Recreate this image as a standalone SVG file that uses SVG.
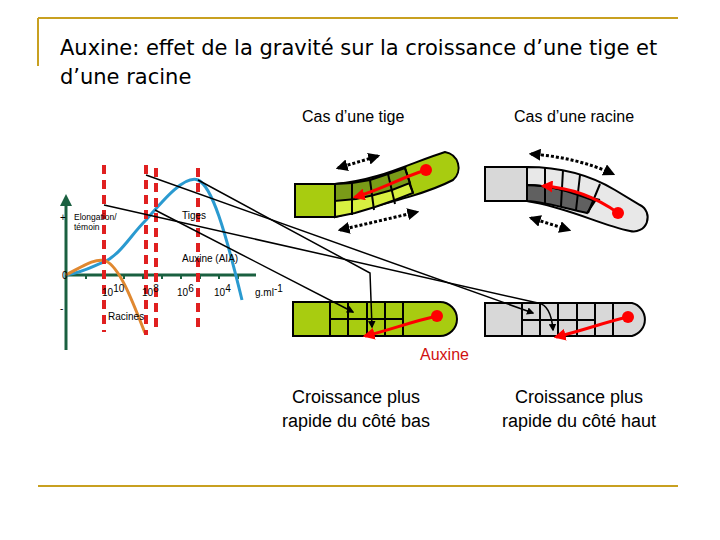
<svg xmlns="http://www.w3.org/2000/svg" width="720" height="540" viewBox="0 0 720 540">
<defs>
<marker id="ah" viewBox="0 0 10 10" refX="8" refY="5" markerWidth="5" markerHeight="5" orient="auto"><path d="M0,0L10,5L0,10z" fill="#000"/></marker>
<marker id="ra" viewBox="0 0 10 10" refX="8" refY="5" markerWidth="4" markerHeight="4" orient="auto"><path d="M0,0L10,5L0,10z" fill="#f00"/></marker>
<marker id="rd" viewBox="0 0 10 10" refX="5" refY="5" markerWidth="4" markerHeight="4"><circle cx="5" cy="5" r="5" fill="#f00"/></marker>
<marker id="da" viewBox="0 0 10 10" refX="8" refY="5" markerWidth="4" markerHeight="4" orient="auto-start-reverse"><path d="M0,0L10,5L0,10z" fill="#000"/></marker>
<marker id="ga" viewBox="0 0 10 10" refX="5" refY="5" markerWidth="4" markerHeight="4" orient="auto"><path d="M0,0L10,5L0,10z" fill="#1a6040"/></marker>
</defs>
<style>
text{font-family:"Liberation Sans",Arial,sans-serif}
.t{font-size:18px}.s{font-size:10px}.x{font-size:8.5px}.m{font-size:16px}
.h{font-family:"DejaVu Sans",Verdana,sans-serif;font-size:21px}
.dash{stroke:#e02020;stroke-width:4;stroke-dasharray:9,6;fill:none}
.cell{stroke:#000;stroke-width:2}
.ln{stroke:#000;stroke-width:1.5;fill:none}
.red{stroke:#f00;stroke-width:3;fill:none;marker-start:url(#rd);marker-end:url(#ra)}
.dot{stroke:#000;stroke-width:3;stroke-dasharray:3,2;fill:none;marker-start:url(#da);marker-end:url(#da)}
</style>
<rect width="720" height="540" fill="#fff"/>
<g fill="none" stroke="#c8a020" stroke-width="2"><path d="M38,18H678M38,18V66M38,486H678"/></g>
<text x="60" y="55" class="h">Auxine: effet de la gravité sur la croissance d’une tige et</text>
<text x="60" y="84" class="h">d’une racine</text>
<text x="302" y="122" class="m">Cas d’une tige</text>
<text x="514" y="122" class="m">Cas d’une racine</text>
<g id="graph">
<path d="M66,350V200" stroke="#1a6040" stroke-width="3" marker-end="url(#ga)"/>
<path d="M66,275H256" stroke="#1a6040" stroke-width="3"/>
<g stroke="#1a6040" stroke-width="2"><path d="M86,275v4M105,275v4M124,275v4M143,275v4M162,275v4M181,275v4M200,275v4M219,275v4M238,275v4"/></g>
<path d="M66,275C85,272 95,265 104,262C120,255 130,236 146,220C165,198 185,175 198,180C212,186 225,230 242,300" stroke="#2a9ad0" stroke-width="3" fill="none"/>
<path d="M66,275C80,268 95,257 106,261C120,268 132,300 145,333" stroke="#e08830" stroke-width="3" fill="none"/>
<path class="dash" d="M104,165V332M146,165V335M156,168V333M198,168V332"/>
<text x="60" y="221" class="s">+</text>
<text x="74" y="220" class="x">Elongation/</text>
<text x="74" y="230" class="x">témoin</text>
<text x="182" y="219" class="s">Tiges</text>
<text x="182" y="262" class="s">Auxine (AIA)</text>
<text x="62" y="279" class="s">0</text>
<text x="60" y="312" class="s">-</text>
<text x="108" y="320" class="s">Racines</text>
<text x="102" y="296" class="s">10<tspan dy="-4">10</tspan></text>
<text x="142" y="296" class="s">10<tspan dy="-4">8</tspan></text>
<text x="177" y="296" class="s">10<tspan dy="-4">6</tspan></text>
<text x="214" y="296" class="s">10<tspan dy="-4">4</tspan></text>
<text x="255" y="296" class="s">g.ml<tspan dy="-4">-1</tspan></text>
</g>
<g id="tige-courbe">
<rect x="295" y="184" width="40" height="33" fill="#a8cc10" class="cell"/>
<path d="M335,184C380,180 410,163 445,152A16,16 0 0 1 453,180C430,192 400,200 335,217z" fill="#a8cc10" class="cell"/>
<path d="M335,184L352,183L370,180L388,174L405,168L404,170L413,193L395,200L375,207L355,213L335,217z" fill="#d8f040" class="cell"/>
<path d="M335,184L352,183L370,180L388,174L405,168L410,183L392,190L374,195L356,199L335,201z" fill="#7a9c18" class="cell"/>
<path class="cell" fill="none" d="M352,183V215M370,180L374,210M388,174L395,204M405,168L413,193"/>
<path class="red" d="M426,170C400,178 380,190 355,197"/>
<path class="dot" d="M338,168L378,156"/>
<path class="dot" d="M340,230L417,212"/>
</g>
<g id="racine-courbe">
<rect x="485" y="167" width="42" height="34" fill="#d8d8d8" class="cell"/>
<path d="M527,167C560,167 590,175 615,190L640,205A14,14 0 0 1 630,231C600,225 570,208 527,201z" fill="#e8e8e8" class="cell"/>
<path d="M527,185C550,185 570,192 595,201L587,213C565,208 545,202 527,201z" fill="#606060" class="cell"/>
<path class="cell" fill="none" d="M527,185C550,185 570,192 600,200M545,167V203M563,170L561,206M580,175L576,210M600,184L588,213"/>
<path class="red" d="M618,213C600,200 575,188 543,186"/>
<path class="dot" d="M531,154C560,156 590,163 613,174"/>
<path class="dot" d="M531,218L569,230"/>
</g>
<g id="tige-droite">
<path d="M293,302H440A17,17 0 0 1 440,336H293z" fill="#a8cc10" class="cell"/>
<path class="cell" d="M330,302V336M348,302V336M367,302V336M385,302V336M403,302V336M330,319H403"/>
<path class="red" d="M437,316C410,322 390,330 365,336"/>
</g>
<g id="racine-droite">
<path d="M485,303H632A17,17 0 0 1 632,336H485z" fill="#d8d8d8" class="cell"/>
<path class="cell" d="M522,303V336M540,303V336M558,303V336M577,303V336M595,303V336M613,303V336M522,320H595"/>
<path class="red" d="M628,317C605,322 585,330 556,337"/>
</g>
<g id="connectors">
<path class="ln" d="M146,175L533,313" marker-end="url(#ah)"/>
<path class="ln" d="M198,180L370,273L372,327" marker-end="url(#ah)"/>
<path class="ln" d="M104,205L538,303Q551,305 553,330" marker-end="url(#ah)"/>
<path class="ln" d="M155,210L353,312" marker-end="url(#ah)"/>
</g>
<text x="420" y="360" class="m" fill="#d01010">Auxine</text>
<text x="356" y="403" class="t" text-anchor="middle">Croissance plus</text>
<text x="356" y="427" class="t" text-anchor="middle">rapide du côté bas</text>
<text x="579" y="403" class="t" text-anchor="middle">Croissance plus</text>
<text x="579" y="427" class="t" text-anchor="middle">rapide du côté haut</text>
</svg>
